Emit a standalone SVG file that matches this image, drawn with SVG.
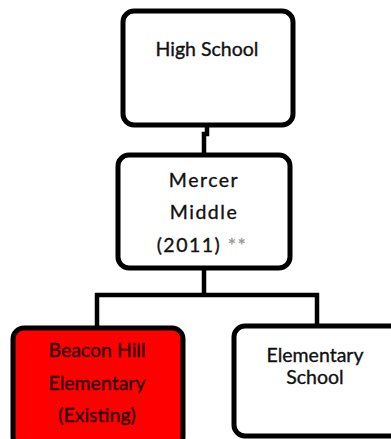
<svg xmlns="http://www.w3.org/2000/svg" width="391" height="439" viewBox="0 0 391 439">
<style>
.box{fill:#fff;stroke:#000;stroke-width:5}
.red{fill:#ff0000}
.t{font-family:Lato,"Liberation Sans",Arial,sans-serif;font-size:19.5px;fill:#111;text-anchor:middle;stroke:#111;stroke-width:0.35px}
.sp{letter-spacing:1.5px}
.dk{fill:#2a0000;stroke:#2a0000}
.conn{fill:none;stroke:#000;stroke-width:4.5}
</style>
<rect width="391" height="439" fill="#fff"/>
<g id="connectors">
<path class="conn" d="M207 125 V134 H204 V155"/>
<path class="conn" d="M204 268 V295"/>
<path class="conn" d="M97 327 V295 H317 V325"/>
</g>
<g id="high-school">
<rect class="box" x="123" y="11" width="170" height="114" rx="11"/>
<text class="t" x="207" y="56">High School</text>
</g>
<g id="mercer-middle">
<rect class="box" x="118" y="155" width="172" height="113" rx="11"/>
<text class="t sp" x="204" y="187">Mercer</text>
<text class="t sp" x="204" y="219">Middle</text>
<text class="t sp" x="202" y="252">(2011) <tspan fill="#999" stroke="#999">**</tspan></text>
</g>
<g id="beacon-hill">
<rect class="box red" x="13" y="328" width="170" height="120" rx="11"/>
<text class="t dk" x="97" y="357">Beacon Hill</text>
<text class="t dk" x="97" y="390">Elementary</text>
<text class="t dk" x="97" y="422">(Existing)</text>
</g>
<g id="elementary-school">
<rect class="box" x="234" y="326" width="170" height="110" rx="11"/>
<text class="t" x="315" y="362">Elementary</text>
<text class="t" x="315" y="384">School</text>
</g>
</svg>
